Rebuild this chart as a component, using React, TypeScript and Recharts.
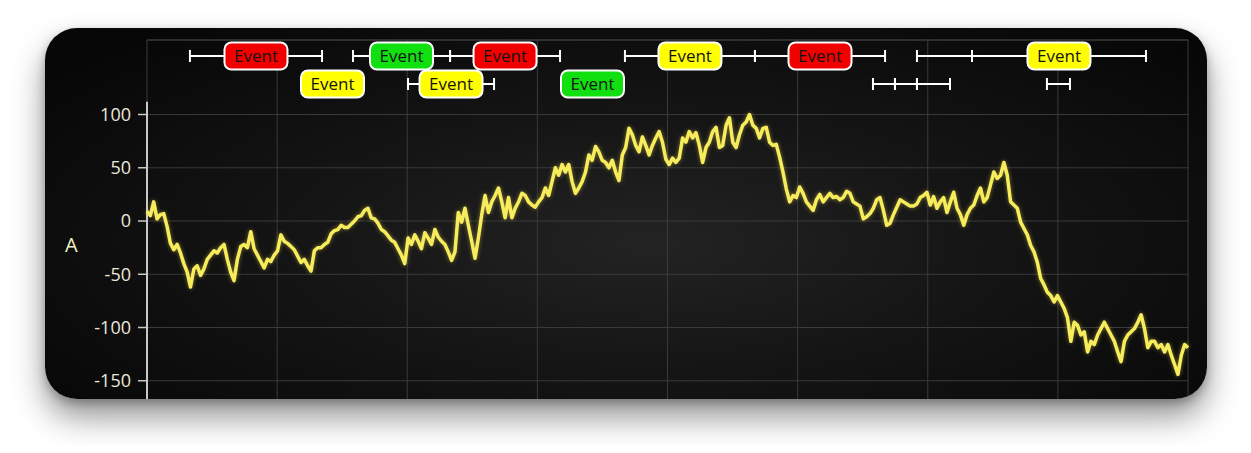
import React from 'react';
import {
  ComposedChart, Line, XAxis, YAxis, CartesianGrid, ReferenceLine, ReferenceDot,
} from 'recharts';

// ---- data ----
const signalValues: number[] = [
  9, 5, 18, 2, 6, 7, -5, -21, -27, -22,
  -30, -40, -48, -62, -45, -42, -51, -45, -36, -32,
  -28, -30, -25, -22, -36, -48, -56, -36, -24, -22,
  -25, -10, -26, -32, -38, -44, -36, -38, -32, -28,
  -13, -19, -21, -24, -27, -33, -39, -36, -42, -47,
  -28, -25, -25, -22, -20, -12, -9, -8, -4, -6,
  -6, -3, 0, 4, 5, 10, 12, 3, 2, -2,
  -8, -10, -14, -18, -20, -26, -32, -40,
  -16, -22, -13, -19, -26, -11, -16, -22, -8, -15,
  -19, -22, -29, -37, -29, 8, -1, 12, -4, -19,
  -35, -16, 6, 24, 8, 18, 24, 31, 18, 3,
  22, 3, 12, 18, 26, 24, 18, 15, 13, 18,
  22, 31, 24, 37, 50, 43, 53, 46, 53, 37,
  26, 31, 37, 46, 62, 57, 70, 65, 57, 55,
  50, 57, 46, 38, 62, 69, 87, 81, 71, 65,
  79, 71, 62, 71, 78, 84, 74, 58,
  53, 59, 55, 59, 78, 74, 84, 78, 83, 71,
  55, 69, 74, 84, 88, 69, 71, 90, 97, 74,
  69, 81, 90, 93, 100, 90, 87, 78, 87, 88,
  74, 71, 72, 60, 46, 30, 18, 24, 22, 32,
  26, 18, 14, 10, 20, 25, 18, 22, 26, 22,
  23, 20, 22, 28, 26, 18, 16, 14, 2, 4,
  7, 12, 20, 22, 10, -4, -2, 6, 13, 20,
  18, 16, 14, 14, 16, 22, 24,
  27, 15, 23, 12, 18, 22, 8, 18, 27, 12,
  6, -4, 6, 12, 15, 24, 31, 18, 22, 34,
  46, 40, 43, 55, 43, 18, 15, 12, -1, -7,
  -13, -23, -29, -39, -54, -60, -67, -70, -76, -70,
  -76, -82, -91, -113, -95, -98, -107, -104, -123, -113,
  -116, -107, -101, -95, -101, -107, -113, -123, -132, -113,
  -107, -104, -101, -95, -88, -101, -119, -113, -113, -119,
  -116, -123, -116, -126, -135, -144, -126, -116, -119,
];

const xStart = 0;
const xEnd = 8;
const xTicks = [0, 1, 2, 3, 4, 5, 6, 7, 8];
const yTicks = [-150, -100, -50, 0, 50, 100];
const yDomain: [number, number] = [-200, 170];
const axisTop = 112;
const yLabel = 'A';

// events (Gantt rows above the signal)
const eventRowValues = [155, 128.7];
const eventRow = [0, 0, 0, 0, 0, 0, 0, 1, 1, 1, 1, 1, 1, 1];
const eventStart = [0.33, 1.583, 2.329, 3.673, 4.672, 5.917, 6.34, 1.214, 2.006, 3.212, 5.579, 5.748, 5.917, 6.916];
const eventEnd = [1.345, 2.329, 3.174, 4.672, 5.672, 6.34, 7.677, 1.637, 2.667, 3.635, 5.748, 5.917, 6.171, 7.093];
const eventColor: (string | null)[] = ['#f20000', '#10e010', '#f20000', '#ffff00', '#f20000', null, '#ffff00', '#ffff00', '#ffff00', '#10e010', null, null, null, null];
const eventText = 'Event';

const data = signalValues.map((v, i) => ({
  x: xStart + (i * (xEnd - xStart)) / (signalValues.length - 1),
  y: v,
}));

const FONT = '"Open Sans", "Noto Sans", sans-serif';
const CAP = 5.6;

const EventLabel = (color: string) => (props: any) => {
  const { cx, cy } = props;
  return (
    <g>
      <rect x={cx - 31.5} y={cy - 13.5} width={63} height={27} rx={7} ry={7}
        fill={color} stroke="#ffffff" strokeWidth={2} />
      <text x={cx} y={cy} dy="0.36em" textAnchor="middle" fontSize={17}
        fontFamily={FONT} fill="#141414">{eventText}</text>
    </g>
  );
};

export default function App() {
  return (
    <div style={{ position: 'relative', width: 1235, height: 437, background: '#ffffff' }}>
      <style>{`.recharts-line-curve { filter: drop-shadow(0 0 2px rgba(255, 236, 80, 0.45)); }`}</style>
      <div
        style={{
          position: 'absolute',
          left: 37,
          top: 20,
          width: 1162,
          height: 371,
          borderRadius: 32,
          overflow: 'hidden',
          background: 'radial-gradient(ellipse 65% 75% at 52% 58%, #232323 0%, #151515 45%, #070707 100%)',
          boxShadow: '0 18px 32px rgba(0,0,0,0.42), 0 4px 10px rgba(0,0,0,0.25)',
        }}
      >
        <ComposedChart
          width={1162}
          height={406}
          data={data}
          margin={{ top: 12, right: 19, left: 0, bottom: 0 }}
        >
          <CartesianGrid stroke="#3a3a3a" strokeWidth={1} />
          <XAxis type="number" dataKey="x" domain={[xStart, xEnd]} ticks={xTicks} hide />
          <YAxis
            type="number"
            domain={yDomain}
            ticks={yTicks}
            allowDataOverflow
            width={102}
            axisLine={false}
            tickLine={{ stroke: '#c8c8c8', strokeWidth: 1.5 }}
            tickSize={9}
            tickMargin={7}
            tick={{ fill: '#ebe8da', fontSize: 18, fontFamily: FONT }}
            label={{ value: yLabel, position: 'insideLeft', offset: 20, dy: 8, fill: '#f4efc6', fontSize: 20, fontFamily: FONT }}
          />
          <ReferenceLine y={yDomain[1]} stroke="#3a3a3a" strokeWidth={1} />
          <ReferenceLine
            segment={[{ x: xStart, y: axisTop }, { x: xStart, y: yDomain[0] }]}
            stroke="#c8c8c8"
            strokeWidth={2}
          />
          {eventStart.map((s, i) => {
            const row = eventRowValues[eventRow[i]];
            const e = eventEnd[i];
            return (
              <React.Fragment key={`ev-${i}`}>
                <ReferenceLine segment={[{ x: s, y: row }, { x: e, y: row }]} stroke="#ffffff" strokeWidth={2} />
                <ReferenceLine segment={[{ x: s, y: row - CAP }, { x: s, y: row + CAP }]} stroke="#ffffff" strokeWidth={2} />
                <ReferenceLine segment={[{ x: e, y: row - CAP }, { x: e, y: row + CAP }]} stroke="#ffffff" strokeWidth={2} />
              </React.Fragment>
            );
          })}
          {eventStart.map((s, i) => {
            const c = eventColor[i];
            if (!c) return null;
            return (
              <ReferenceDot
                key={`lab-${i}`}
                x={(s + eventEnd[i]) / 2}
                y={eventRowValues[eventRow[i]]}
                r={1}
                shape={EventLabel(c)}
              />
            );
          })}
          <Line
            type="linear"
            dataKey="y"
            stroke="#f7ec5c"
            strokeWidth={3.5}
            strokeLinejoin="round"
            dot={false}
            activeDot={false}
            isAnimationActive={false}
          />
        </ComposedChart>
      </div>
    </div>
  );
}
